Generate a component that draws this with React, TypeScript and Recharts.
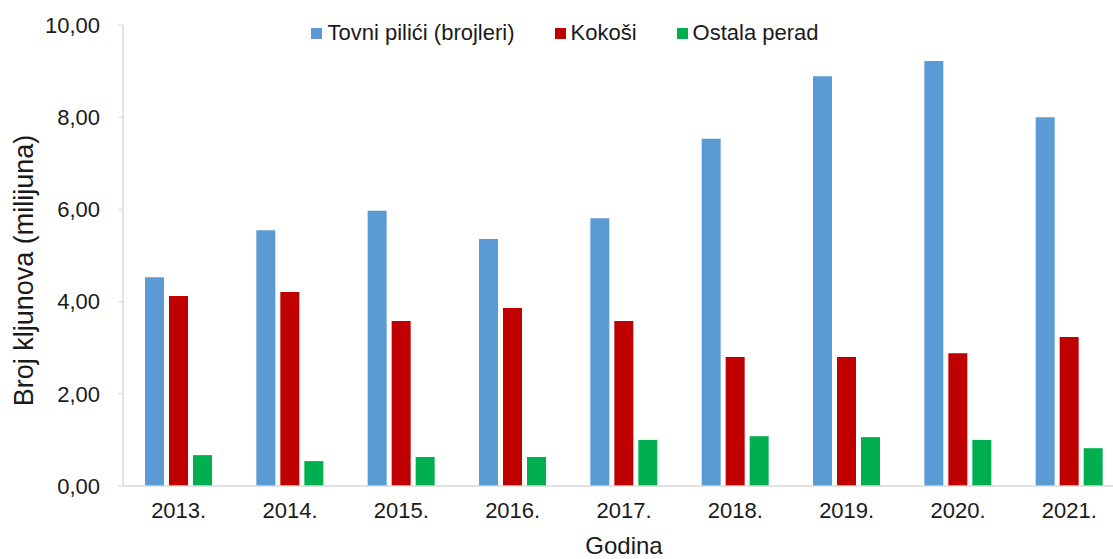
import { Bar, BarChart, Label, Legend, XAxis, YAxis } from "recharts";

const years = ["2013.", "2014.", "2015.", "2016.", "2017.", "2018.", "2019.", "2020.", "2021."];
const brojleri = [4.53, 5.55, 5.97, 5.36, 5.81, 7.53, 8.89, 9.22, 8.0];
const kokosi = [4.12, 4.21, 3.58, 3.86, 3.58, 2.8, 2.8, 2.88, 3.23];
const ostalaPerad = [0.67, 0.54, 0.63, 0.63, 1.0, 1.08, 1.06, 1.0, 0.82];
const yTicks = [0, 2, 4, 6, 8, 10];

const series = [
  { key: "brojleri", name: "Tovni pilići (brojleri)", color: "#5B9BD5" },
  { key: "kokosi", name: "Kokoši", color: "#C00000" },
  { key: "ostala", name: "Ostala perad", color: "#00B050" },
];

const data = years.map((godina, i) => ({
  godina,
  brojleri: brojleri[i],
  kokosi: kokosi[i],
  ostala: ostalaPerad[i],
}));

const fmt = (v: number) => v.toFixed(2).replace(".", ",");
const textColor = "#1a1a1a";
const axisColor = "#d9d9d9";

function LegendBox() {
  return (
    <div
      style={{
        display: "flex",
        justifyContent: "center",
        gap: 40,
        marginLeft: 5,
        fontSize: 22,
        color: textColor,
        lineHeight: "24px",
      }}
    >
      {series.map((s) => (
        <div key={s.key} style={{ display: "flex", alignItems: "center" }}>
          <span style={{ width: 11, height: 11, background: s.color, marginRight: 5, display: "inline-block" }} />
          <span>{s.name}</span>
        </div>
      ))}
    </div>
  );
}

export default function App() {
  return (
    <div
      style={{
        position: "fixed",
        left: 0,
        top: 0,
        width: 1113,
        height: 559,
        overflow: "hidden",
        background: "#fff",
        fontFamily: "'Liberation Sans', Arial, sans-serif",
      }}
    >
      <BarChart
        width={1125}
        height={559}
        data={data}
        margin={{ top: 25, right: 0, bottom: 0, left: 0 }}
        barSize={19}
        barGap={5}
      >
        <XAxis
          dataKey="godina"
          height={73}
          tickLine={false}
          tickMargin={10}
          axisLine={{ stroke: axisColor, strokeWidth: 1.5 }}
          tick={{ fill: textColor, fontSize: 22 }}
        >
          <Label value="Godina" position="insideBottom" offset={5} fill={textColor} fontSize={24} />
        </XAxis>
        <YAxis
          width={123}
          domain={[0, 10]}
          ticks={yTicks}
          tickFormatter={fmt}
          tickSize={5}
          tickMargin={18}
          tickLine={{ stroke: axisColor }}
          axisLine={{ stroke: axisColor, strokeWidth: 1.5 }}
          tick={{ fill: textColor, fontSize: 22 }}
        >
          <Label
            value="Broj kljunova (milijuna)"
            angle={-90}
            position="insideLeft"
            offset={23}
            dy={15}
            fill={textColor}
            fontSize={27}
            style={{ textAnchor: "middle" }}
          />
        </YAxis>
        <Legend
          verticalAlign="middle"
          align="center"
          wrapperStyle={{ top: 21, left: 0, width: 1125 }}
          content={() => <LegendBox />}
        />
        {series.map((s) => (
          <Bar key={s.key} dataKey={s.key} name={s.name} fill={s.color} isAnimationActive={false} />
        ))}
      </BarChart>
    </div>
  );
}
